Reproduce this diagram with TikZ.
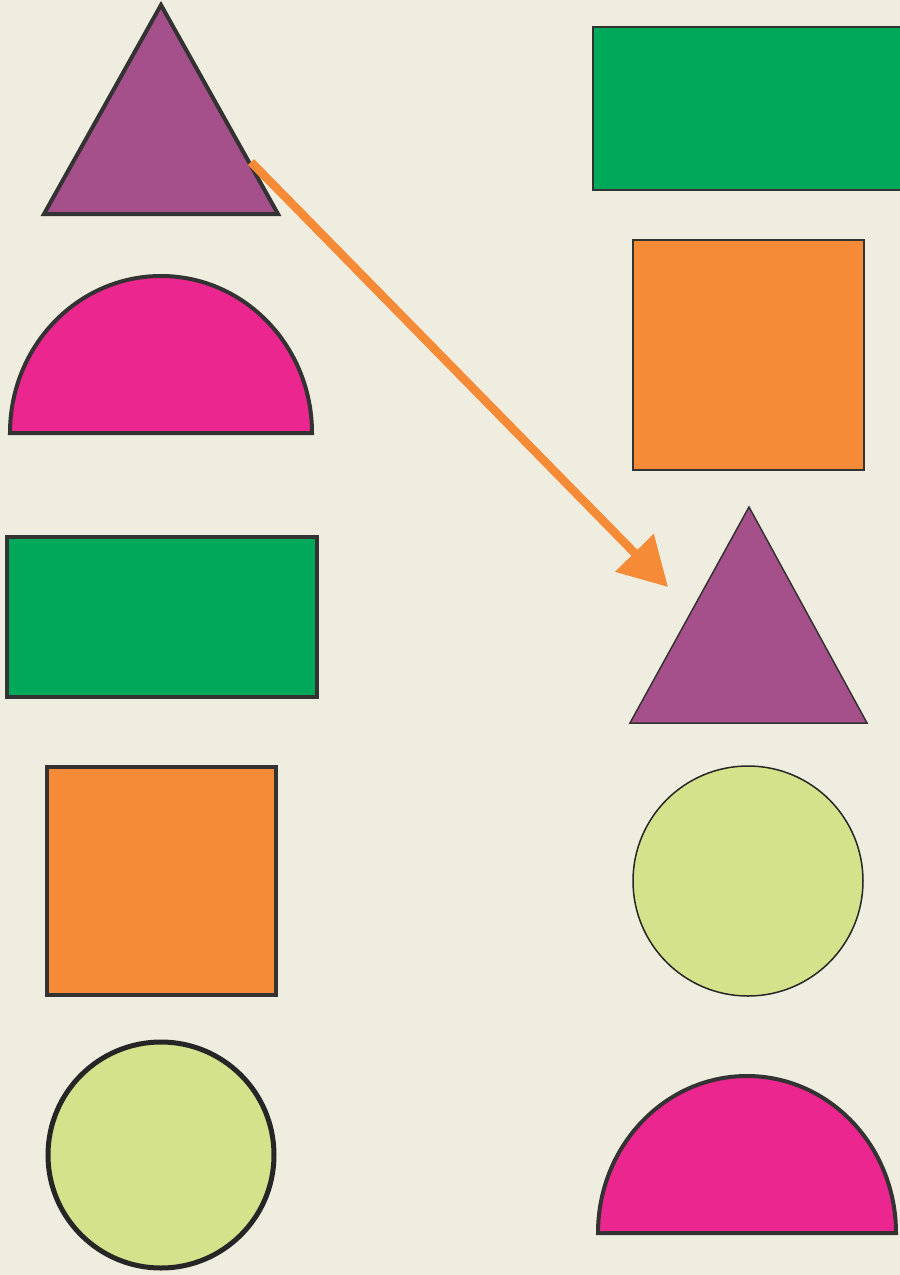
\documentclass[tikz,border=0pt]{standalone}
\usetikzlibrary{arrows.meta}
\definecolor{bg}{HTML}{EFEDDF}
\definecolor{purp}{HTML}{A5508A}
\definecolor{pinkc}{HTML}{EC268F}
\definecolor{greenc}{HTML}{00A859}
\definecolor{orangec}{HTML}{F68B37}
\definecolor{limec}{HTML}{D4E38B}
\definecolor{edge}{HTML}{333333}
\tikzset{
  thick shape/.style={draw=edge, line width=4pt},
  thin shape/.style={draw=edge, line width=2pt},
}
\begin{document}
\begin{tikzpicture}[x=1pt,y=-1pt]
\fill[bg] (0,0) rectangle (900,1275);
\useasboundingbox (0,0) rectangle (900,1275);
% left column
\filldraw[thick shape, fill=purp] (44,214) -- (161,5) -- (278,214) -- cycle;
\filldraw[thick shape, fill=pinkc] (10,433) arc[start angle=180, end angle=360, x radius=151, y radius=157] -- cycle;
\filldraw[thick shape, fill=greenc] (7,537) rectangle (317,697);
\filldraw[thick shape, fill=orangec] (47,767) rectangle (276,995);
\filldraw[draw=black!85, line width=5pt, fill=limec] (161,1155) circle[radius=113];
% right column
\filldraw[thin shape, fill=greenc] (593,27) rectangle (905,190);
\filldraw[thin shape, draw=black!80, fill=orangec] (633,240) rectangle (864,470);
\filldraw[draw=edge, line width=1.5pt, fill=purp] (630,723) -- (749,507) -- (867,723) -- cycle;
\filldraw[draw=black!85, line width=1.5pt, fill=limec] (748,881) circle[radius=115];
\filldraw[thick shape, fill=pinkc] (598,1233) arc[start angle=180, end angle=360, x radius=149, y radius=157] -- cycle;
% arrow
\coordinate (a) at (251,162);
\coordinate (b) at (668,587);
\draw[orangec, line width=8.5pt, -{Triangle[length=48pt, width=52pt]}] (a) -- (b);
\end{tikzpicture}
\end{document}
